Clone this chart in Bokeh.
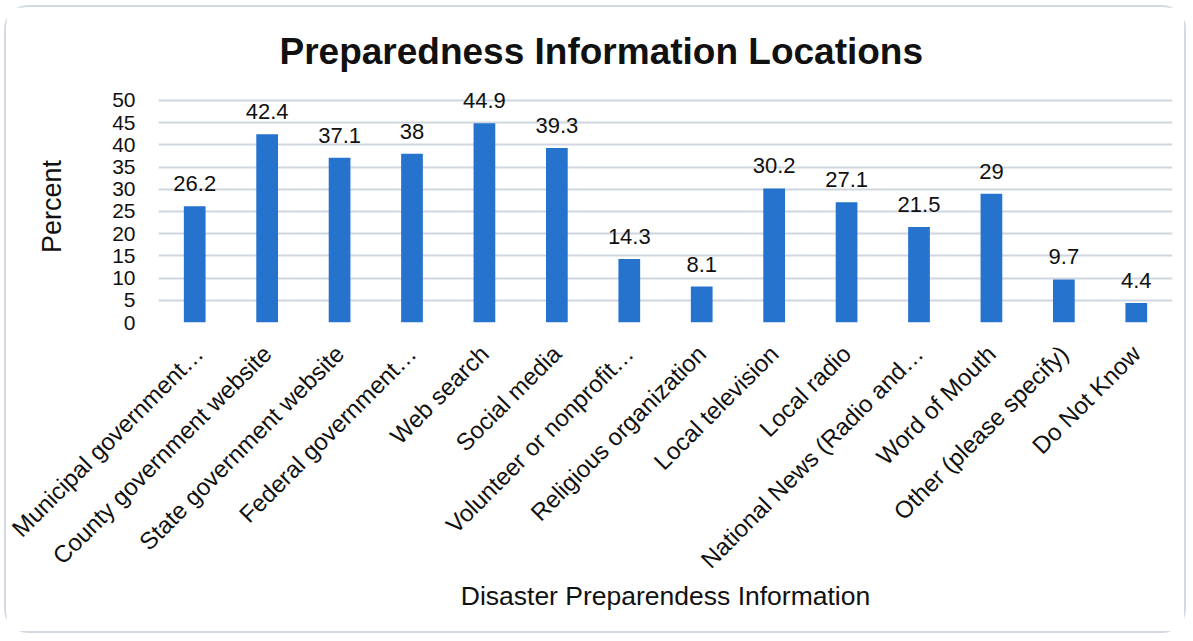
from bokeh.plotting import figure
from bokeh.models import ColumnDataSource, FactorRange, Range1d, FixedTicker, LabelSet
from bokeh.core.properties import value
from bokeh.embed import file_html
from bokeh.resources import INLINE
import math

categories = [
    "Municipal government…",
    "County government website",
    "State government website",
    "Federal government…",
    "Web search",
    "Social media",
    "Volunteer or nonprofit…",
    "Religious organization",
    "Local television",
    "Local radio",
    "National News (Radio and…",
    "Word of Mouth",
    "Other (please specify)",
    "Do Not Know",
]
percent = [26.2, 42.4, 37.1, 38, 44.9, 39.3, 14.3, 8.1, 30.2, 27.1, 21.5, 29, 9.7, 4.4]
value_labels = ["26.2", "42.4", "37.1", "38", "44.9", "39.3", "14.3", "8.1",
                "30.2", "27.1", "21.5", "29", "9.7", "4.4"]
y_ticks = [0, 5, 10, 15, 20, 25, 30, 35, 40, 45, 50]
chart_title = "Preparedness Information Locations"
x_title = "Disaster Preparendess Information"
y_title = "Percent"

FONT = "Liberation Sans"

source = ColumnDataSource(data=dict(cat=categories, val=percent, lab=value_labels))

p = figure(
    width=1182, height=628,
    x_range=FactorRange(factors=categories, range_padding=0),
    y_range=Range1d(0, 52.25),
    output_backend="svg", toolbar_location=None,
    min_border_left=152, min_border_right=16,
    min_border_top=83, min_border_bottom=313,
)
p.margin = (5, 0, 0, 4)
p.styles = {"border": "2px solid #d4dae3", "border-radius": "24px"}

p.vbar(x="cat", top="val", width=0.3, source=source,
       fill_color="#2673CE", line_color=None)

labels = LabelSet(x="cat", y="val", text="lab", source=source,
                  y_offset=15, text_align="center", text_baseline="alphabetic",
                  text_font=value(FONT), text_font_size="22px", text_color="#111111")
p.add_layout(labels)

# title
p.title.text = chart_title
p.title.text_font = FONT
p.title.text_font_size = "37px"
p.title.text_font_style = "bold"
p.title.text_color = "#111111"
p.title.align = "left"
p.title.offset = 121
p.title.standoff = 37

# grids
p.xgrid.grid_line_color = None
p.ygrid.grid_line_color = "#cfd6e0"
p.ygrid.grid_line_width = 2
p.outline_line_color = None

# y axis
p.yaxis.ticker = FixedTicker(ticks=y_ticks)
p.yaxis.axis_line_color = None
p.yaxis.major_tick_line_color = None
p.yaxis.minor_tick_line_color = None
p.yaxis.major_tick_out = 0
p.yaxis.major_tick_in = 0
p.yaxis.major_label_standoff = 23
p.yaxis.major_label_text_font = FONT
p.yaxis.major_label_text_font_size = "21px"
p.yaxis.major_label_text_color = "#111111"
p.yaxis.axis_label = y_title
p.yaxis.axis_label_text_font = FONT
p.yaxis.axis_label_text_font_size = "27px"
p.yaxis.axis_label_text_font_style = "normal"
p.yaxis.axis_label_text_color = "#111111"
p.yaxis.axis_label_standoff = 42

# x axis
p.xaxis.axis_line_color = None
p.xaxis.major_tick_line_color = None
p.xaxis.minor_tick_line_color = None
p.xaxis.major_tick_out = 0
p.xaxis.major_tick_in = 0
p.xaxis.major_label_orientation = math.pi / 4
p.xaxis.major_label_standoff = 27
p.xaxis.major_label_text_font = FONT
p.xaxis.major_label_text_font_size = "24px"
p.xaxis.major_label_text_color = "#111111"
p.xaxis.axis_label = x_title
p.xaxis.axis_label_text_font = FONT
p.xaxis.axis_label_text_font_size = "26.5px"
p.xaxis.axis_label_text_font_style = "normal"
p.xaxis.axis_label_text_color = "#111111"
p.xaxis.axis_label_standoff = -5

open("out.html", "w").write(file_html(p, INLINE))
